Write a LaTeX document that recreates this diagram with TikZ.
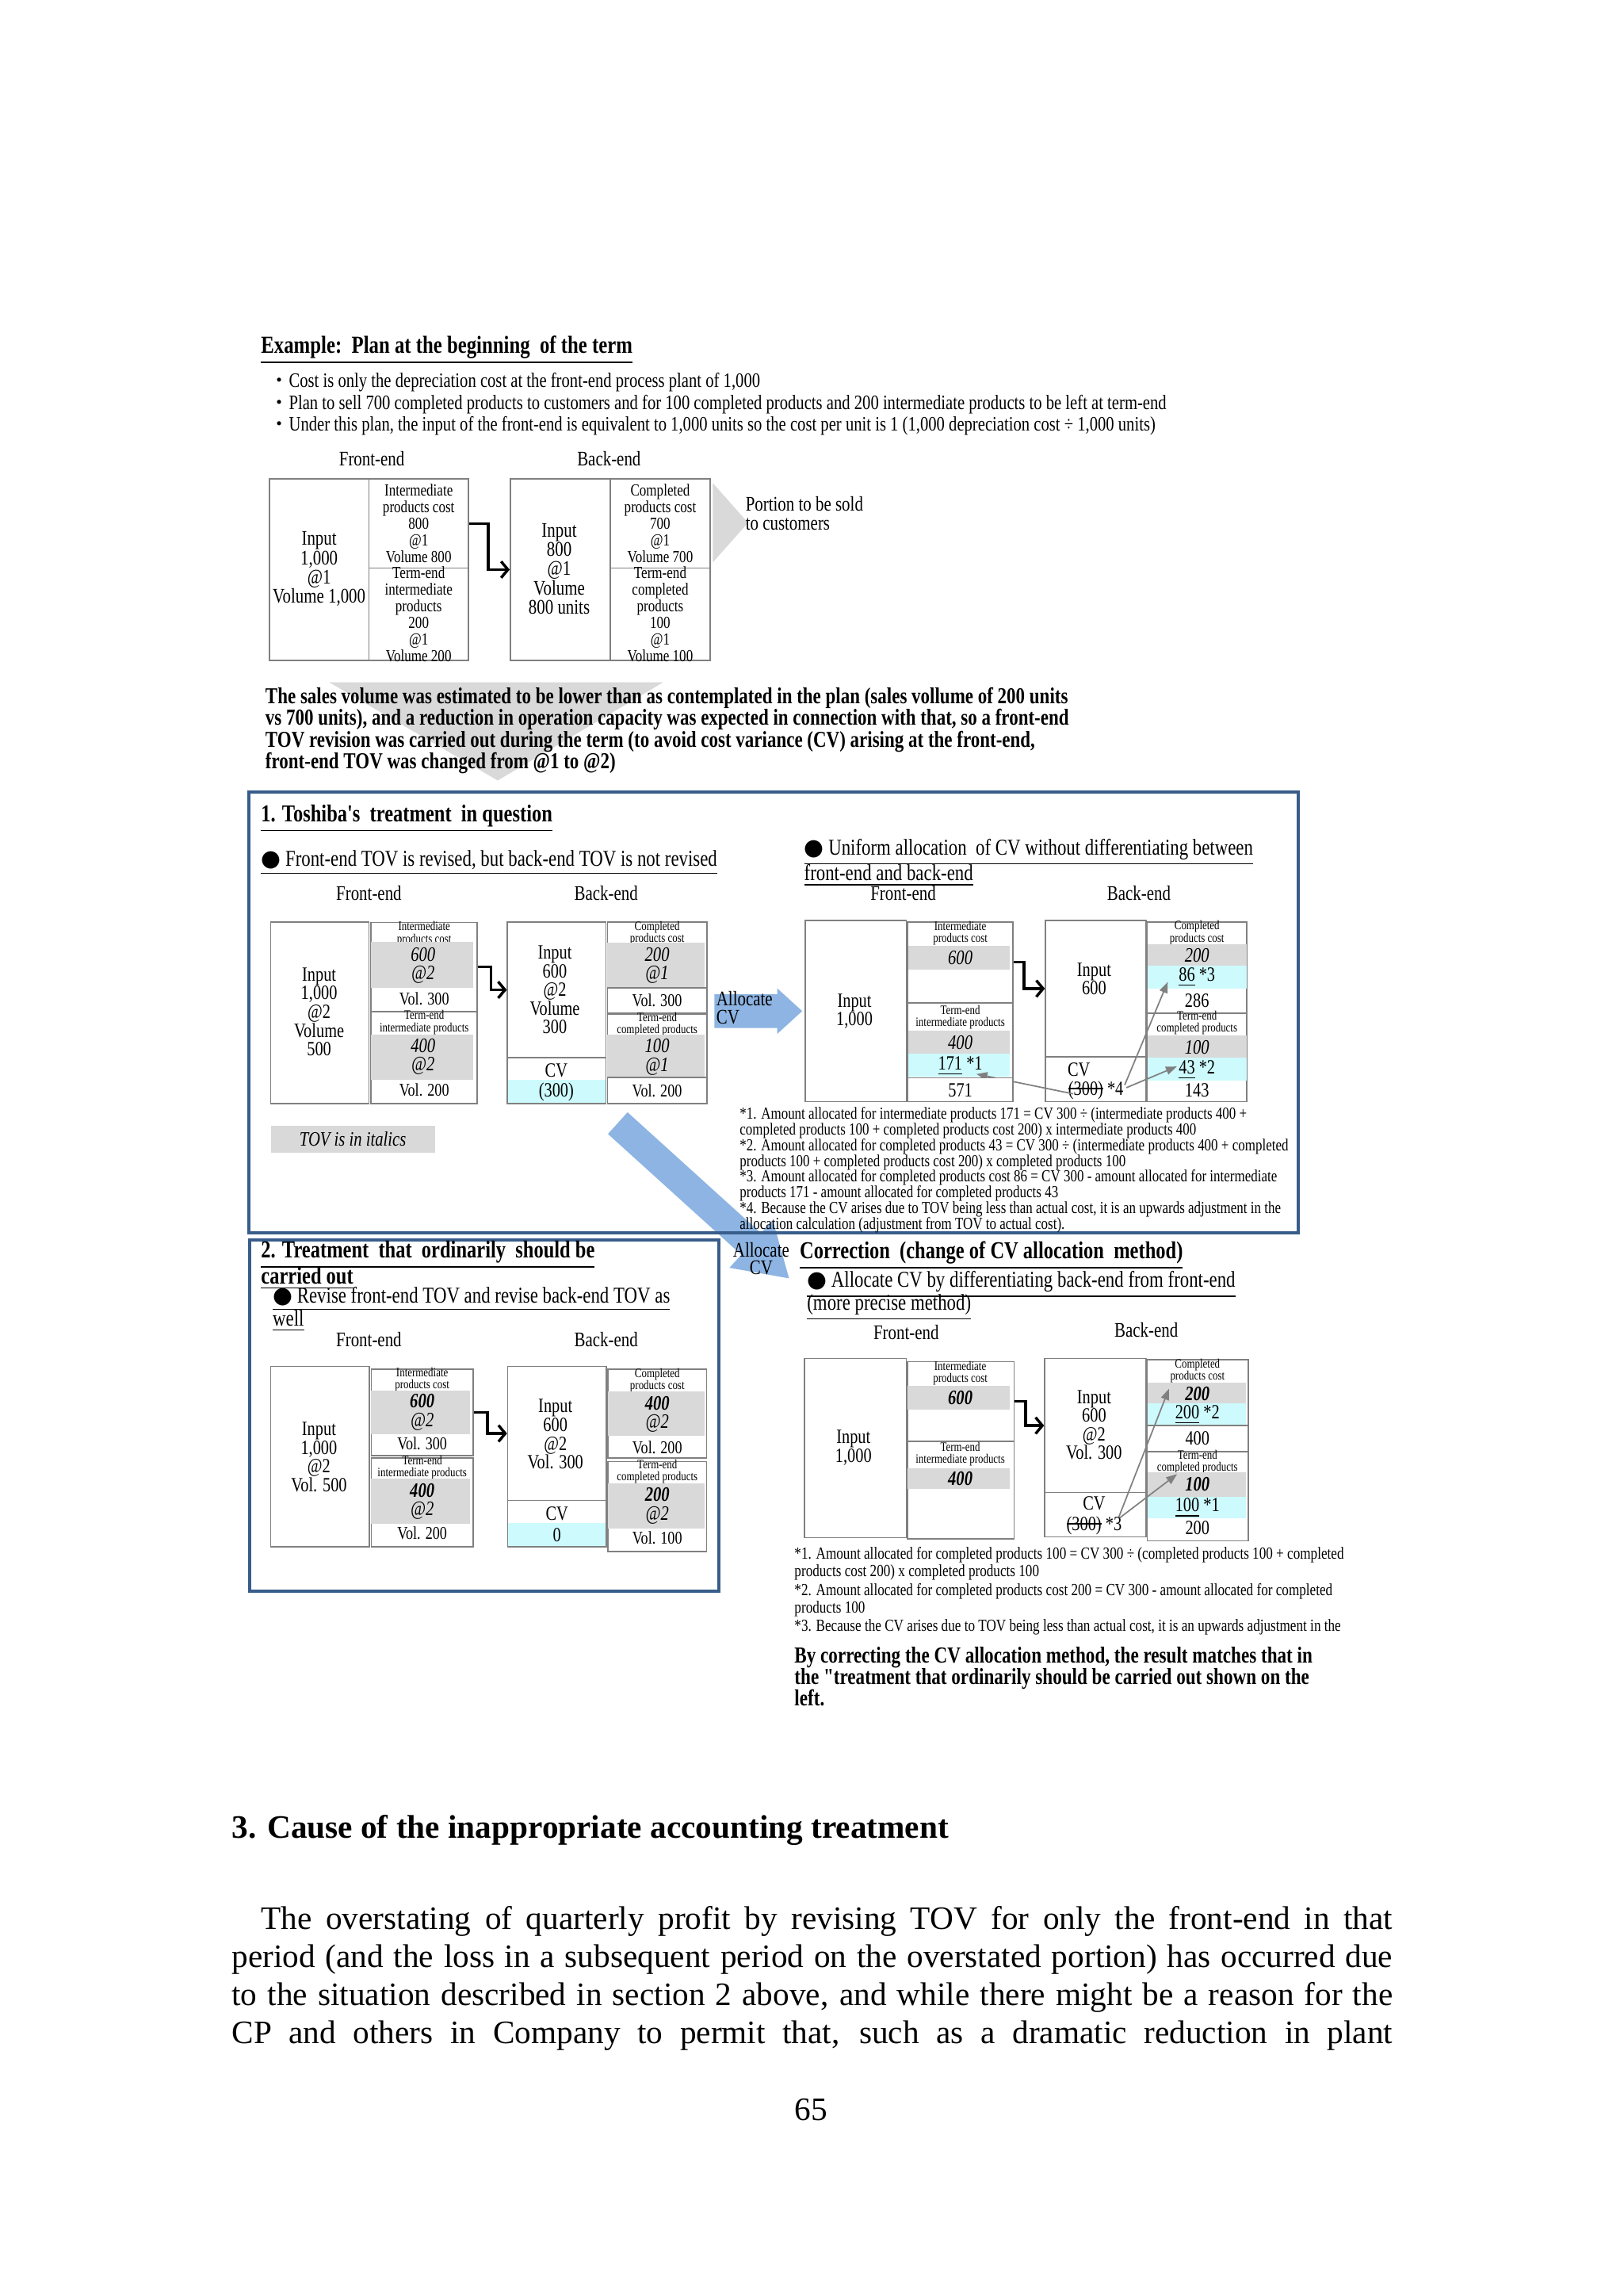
\documentclass[tikz,border=0pt]{standalone}
\usepackage{fontspec}
\setmainfont{Liberation Serif}
\newfontfamily\nf[FakeStretch=0.8]{Liberation Serif}
\newfontfamily\djv{DejaVu Sans}
\newfontfamily\cjk{Noto Sans CJK JP}
\usetikzlibrary{fit,arrows.meta}
\definecolor{secblue}{RGB}{56,93,138}
\definecolor{boxgray}{RGB}{128,128,128}
\definecolor{tovgray}{RGB}{217,217,217}
\definecolor{cvcyan}{RGB}{205,250,252}
\definecolor{arrblue}{RGB}{141,180,226}
\definecolor{arrgray}{RGB}{128,128,128}
\newcommand\cell[3]{\node[box, fit={#2 #3}] (#1) {};}
\newcommand\gband[3]{\node[gb, fit={#2 #3}] (#1) {};}
\newcommand\cband[3]{\node[cb, fit={#2 #3}] (#1) {};}
\newcommand\bul{{\djv ●}}
\newcommand\strk[1]{\begingroup\setbox0\hbox{#1}\rlap{\rule[0.3em]{\wd0}{0.5pt}}\box0\endgroup}
\begin{document}
\begin{tikzpicture}[x=0.5368pt,y=-0.5368pt,
 box/.style={draw=boxgray,line width=0.45pt,fill=white,inner sep=0pt},
 gb/.style={fill=tovgray,draw=none,inner sep=0pt},
 cb/.style={fill=cvcyan,draw=none,inner sep=0pt},
 tx/.style={inner sep=0pt,align=center,font=\nf\fontsize{7.4}{6.85}\selectfont},
 ttx/.style={inner sep=0pt,align=center,font=\nf\fontsize{7.6}{7}\selectfont},
 tcx/.style={inner sep=0pt,align=center,font=\nf\fontsize{6.2}{6.05}\selectfont},
 lb/.style={inner sep=0pt,align=center,font=\nf\fontsize{4.7}{4.45}\selectfont},
 vl/.style={inner sep=0pt,align=center,font=\nf\itshape\fontsize{7.5}{6.8}\selectfont},
 vb/.style={inner sep=0pt,align=center,font=\nf\bfseries\itshape\fontsize{7.5}{6.9}\selectfont},
 vo/.style={inner sep=0pt,font=\nf\fontsize{6.6}{7}\selectfont},
 hd/.style={inner sep=0pt,font=\nf\fontsize{7.6}{8}\selectfont},
 ttl/.style={inner sep=0pt,anchor=west,font=\nf\bfseries\fontsize{8.9}{9}\selectfont},
 sub/.style={inner sep=0pt,anchor=west,font=\nf\fontsize{8.3}{9}\selectfont},
 bl/.style={inner sep=0pt,anchor=west,font=\nf\fontsize{7.5}{8}\selectfont},
 sl/.style={inner sep=0pt,anchor=west,align=left,font=\nf\bfseries\fontsize{8.35}{7.9}\selectfont},
 note/.style={inner sep=0pt,anchor=west,align=left,font=\nf\fontsize{6.17}{5.75}\selectfont},
 bd/.style={inner sep=0pt,anchor=west,font=\fontsize{12}{14}\selectfont},
 stp/.style={line width=1pt,-{Straight Barb[length=2.5pt,width=6pt]}},
 ga/.style={draw=arrgray,line width=0.5pt,-{Triangle[length=4pt,width=3pt]}},
 secbox/.style={draw=secblue,line width=1.2pt,inner sep=0pt},
]
\fill[white] (0,0) rectangle (1109,1568);
\useasboundingbox (0,0) rectangle (1109,1568);

% ---------------- top: plan ----------------
\node[ttl,font=\nf\bfseries\fontsize{9}{9}\selectfont] (ex) at (178,239) {\underline{Example:\ \ Plan at the beginning\ \ of the term}};
\node[bl] (b1) at (184,261) {{\cjk\fontsize{7}{8}\selectfont ・}Cost is only the depreciation cost at the front-end process plant of 1,000};
\node[bl] (b2) at (184,276) {{\cjk\fontsize{7}{8}\selectfont ・}Plan to sell 700 completed products to customers and for 100 completed products and 200 intermediate products to be left at term-end};
\node[bl] (b3) at (184,291) {{\cjk\fontsize{7}{8}\selectfont ・}Under this plan, the input of the front-end is equivalent to 1,000 units so the cost per unit is 1 (1,000 depreciation cost ÷ 1,000 units)};

\node[hd] (fe0) at (254,313) {Front-end};
\node[hd] (be0) at (416,313) {Back-end};
\cell{tin}{(184,327)}{(252,451)}
\cell{tim}{(252,327)}{(320,388)}
\cell{tte}{(252,388)}{(320,451)}
\cell{bin}{(348.6,327)}{(417,451)}
\cell{bcp}{(417,327)}{(485,388)}
\cell{bte}{(417,388)}{(485,451)}
\node[ttx] (tinT) at (218,388.5) {Input\\1,000\\@1\\Volume 1,000};
\node[tcx] (timT) at (286,357.5) {Intermediate\\products cost\\800\\@1\\Volume 800};
\node[tcx] (tteT) at (286,419.5) {Term-end\\intermediate\\products\\200\\@1\\Volume 200};
\node[ttx] (binT) at (382,388.5) {Input\\800\\@1\\Volume\\800 units};
\node[tcx] (bcpT) at (451,357.5) {Completed\\products cost\\700\\@1\\Volume 700};
\node[tcx] (bteT) at (451,419.5) {Term-end\\completed\\products\\100\\@1\\Volume 100};
\draw[stp] (tim.east) -- ++(13,0) |- (bin.west);
\fill[tovgray] (487,330) -- (511,357) -- (487,384) -- cycle;
\node[ttx,anchor=west,align=left] (por) at (509,350.5) {Portion to be sold\\to customers};

\fill[tovgray] (225,466) -- (453,466) -- (340,533) -- cycle;
\node[sl] (sales) at (181,499) {The sales volume was estimated to be lower than as contemplated in the plan (sales vollume of 200 units\\vs 700 units), and a reduction in operation capacity was expected in connection with that, so a front-end\\TOV revision was carried out during the term (to avoid cost variance (CV) arising at the front-end,\\front-end TOV was changed from @1 to @2)};

% ---------------- big diagonal arrow ----------------
\fill[arrblue] (428.7,759.6) -- (519.8,842.1) -- (527.9,833.2) -- (539,873) -- (498.3,865.8) -- (506.4,856.9) -- (415.3,774.4) -- cycle;

% ---------------- section 1 ----------------
\node[secbox, fit={(170,541) (887,842)}] (sec1) {};
\node[ttl] (s1t) at (178,559) {\underline{1. Toshiba's\ \ treatment\ \ in question}};
\node[sub] (s1s) at (178,589) {\underline{\bul\ Front-end TOV is revised, but back-end TOV is not revised}};
\node[hd] (fe1) at (252,610) {Front-end};
\node[hd] (be1) at (414,610) {Back-end};
% front
\cell{ain}{(185,629.6)}{(252,753.6)}
\cell{aim}{(253.5,630)}{(326,690.5)}
\cell{ate}{(253.5,691)}{(326,753.6)}
\node[lb] (aimL) at (289.8,637.6) {Intermediate\\products cost};
\node[lb] (ateL) at (289.8,698.3) {Term-end\\intermediate products};
\gband{ag1}{(253.5,643)}{(323,674.7)}
\gband{ag2}{(253.5,706.7)}{(323,737.5)}
\node[tx] (ainT) at (218,691) {Input\\1,000\\@2\\Volume\\500};
\node[vl] (ag1T) at (289,659.5) {600\\@2};
\node[vl] (ag2T) at (289,721.5) {400\\@2};
\node[vo] (av1) at (289.8,682) {Vol. 300};
\node[vo] (av2) at (289.8,744.5) {Vol. 200};
% back
\cell{abin}{(346.6,629.6)}{(414,722.4)}
\cell{abcv}{(346.6,722.4)}{(414,753.6)}
\cband{abc}{(347,737.5)}{(413.6,753.2)}
\node[tx] (abinT) at (379,676) {Input\\600\\@2\\Volume\\300};
\node[tx] (abcvT) at (380,731) {CV};
\node[tx] (abcvV) at (380,745.5) {(300)};
\cell{abcp}{(415,629.6)}{(482.9,691.7)}
\cell{abte}{(415,692.6)}{(482.9,753.6)}
\node[lb] (abcpL) at (448.9,637.2) {Completed\\products cost};
\node[lb] (abteL) at (448.9,699.5) {Term-end\\completed products};
\gband{abg1}{(415,643.9)}{(481.4,674.2)}
\gband{abg2}{(415,706.7)}{(481.4,735.5)}
\draw[boxgray,line width=0.45pt] (abg1.south west) -- (abcp.east |- abg1.south);
\draw[boxgray,line width=0.45pt] (abg2.south west) -- (abte.east |- abg2.south);
\node[vl] (abg1T) at (448.9,659.5) {200\\@\textit{1}};
\node[vl] (abg2T) at (448.9,722) {100\\@\textit{1}};
\node[vo] (abv1) at (448.9,683.2) {Vol. 300};
\node[vo] (abv2) at (448.9,745) {Vol. 200};
\draw[stp] (aim.east) -- ++(9,0) |- (abin.west);
% TOV note
\node[gb, fit={(185,769) (297,787)}] (tovbox) {};
\node[vl] (tovT) at (241,778) {TOV is in italics};
% allocate arrow
\fill[arrblue] (488,679) -- (531,679) -- (531,675) -- (548,690.5) -- (531,706) -- (531,702) -- (488,702) -- cycle;
\node[tx,anchor=west,align=left,font=\nf\fontsize{7.6}{6.5}\selectfont] (alc1) at (489,688.3) {Allocate\\CV};
% right: uniform allocation
\node[sub] (u1) at (549,582) {\underline{\bul\ Uniform allocation\ \ of CV without differentiating between}};
\node[sub] (u2) at (549,598) {\underline{front-end and back-end}};
\node[hd] (fe2) at (617,610) {Front-end};
\node[hd] (be2) at (778,610) {Back-end};
\cell{uin}{(550,628.7)}{(619,752.3)}
\cell{uim}{(620,629.6)}{(692,684.6)}
\cell{ute}{(620,685.2)}{(692,736)}
\node[lb] (uimL) at (656,637.3) {Intermediate\\products cost};
\node[lb] (uteL) at (656,694.6) {Term-end\\intermediate products};
\gband{ug1}{(620.5,645.8)}{(690,662)}
\gband{ug2}{(620.5,703.6)}{(690,719.3)}
\cband{uc1}{(620.5,719.8)}{(690,735.5)}
\node[vl] (ug1T) at (656,654.3) {600};
\node[vl] (ug2T) at (656,712) {400};
\node[tx] (uc1T) at (656,728) {\underline{171} *1};
\node[tx] (uinT) at (583.7,690.6) {Input\\1,000};
\cell{ubin}{(714.2,628.7)}{(783,721.6)}
\cell{ucv}{(714.2,721.6)}{(783,752.3)}
\node[tx] (ubinT) at (747.4,668.5) {Input\\600};
\node[tx] (ucvT) at (737,730.5) {CV};
\node[tx] (ucvV) at (748.6,744.6) {\strk{(300)} *4};
\cell{ucp}{(783.6,629.6)}{(851.8,691.9)}
\cell{ute2}{(783.6,691.9)}{(851.8,752.3)}
\node[lb] (ucpL) at (817.7,637) {Completed\\products cost};
\node[lb] (ute2L) at (817.7,698.5) {Term-end\\completed products};
\gband{ug3}{(784,644.7)}{(851.4,659.2)}
\cband{uc3}{(784,659.2)}{(851.4,675.1)}
\gband{ug4}{(784,707)}{(851.4,722.4)}
\cband{uc4}{(784,722.4)}{(851.4,738.2)}
\node[vl] (ug3T) at (817.7,652.5) {200};
\node[tx] (uc3T) at (817.7,667.5) {\underline{86} *3};
\node[tx] (u286) at (817.7,683.2) {286};
\node[vl] (ug4T) at (817.7,715) {100};
\node[tx] (uc4T) at (817.7,730.7) {\underline{43} *2};
\node[tx] (u143) at (817.7,744.5) {143};
\draw[stp] (uim.east) -- ++(7,0) |- (ubin.west);
\coordinate (cvA) at (733,747);
\coordinate (cvB) at (768.3,741);
\coordinate (cvC) at (769.5,742.8);
\coordinate (t171) at (667,733.5);
\coordinate (t86) at (797.7,670.6);
\coordinate (t43) at (803.9,728.3);
\draw[ga] (cvA) -- (t171);
\draw[ga] (cvB) -- (t86);
\draw[ga] (cvC) -- (t43);
\cell{u571}{(620,736)}{(692,752.3)}
\node[tx] (u571T) at (656,744.6) {571};
% notes 1
\node[note] (n1) at (505,799) {*1. Amount allocated for intermediate products 171 = CV 300 ÷ (intermediate products 400 +\\completed products 100 + completed products cost 200) x intermediate products 400\\*2. Amount allocated for completed products 43 = CV 300 ÷ (intermediate products 400 + completed\\products 100 + completed products cost 200) x completed products 100\\*3. Amount allocated for completed products cost 86 = CV 300 - amount allocated for intermediate\\products 171 - amount allocated for completed products 43\\*4. Because the CV arises due to TOV being less than actual cost, it is an upwards adjustment in the\\allocation calculation (adjustment from TOV to actual cost).};

% ---------------- section 2 ----------------
\node[secbox, fit={(170.4,846.6) (491.3,1086.6)}] (sec2) {};
\node[ttl] (s2t1) at (178,857) {\underline{2. Treatment\ \ that\ \ ordinarily\ \ should be}};
\node[ttl] (s2t2) at (178,873) {\underline{carried out}};
\node[sub] (s2s1) at (186,887) {\underline{\bul\ Revise front-end TOV and revise back-end TOV as}};
\node[sub] (s2s2) at (186,902) {\underline{well}};
\node[hd] (fe3) at (252,915) {Front-end};
\node[hd] (be3) at (414,915) {Back-end};
\cell{cin}{(184.8,933.2)}{(252.2,1056.3)}
\cell{cim}{(253.6,935)}{(323.2,994.2)}
\cell{cte}{(253.6,995.8)}{(323.2,1056.3)}
\node[lb] (cimL) at (288.4,942) {Intermediate\\products cost};
\node[lb] (cteL) at (288.4,1002.3) {Term-end\\intermediate products};
\gband{cg1}{(253.6,949.8)}{(321,979.6)}
\gband{cg2}{(253.6,1010)}{(321,1040.6)}
\node[vl] (cg1T) at (288.4,964.5) {\textbf{600}\\@2};
\node[vl] (cg2T) at (288.4,1025.5) {\textbf{400}\\@2};
\node[vo] (cv1) at (288.4,986) {Vol. 300};
\node[vo] (cv2) at (288.4,1047) {Vol. 200};
\node[tx] (cinT) at (217.9,995) {Input\\1,000\\@2\\Vol. 500};
\cell{cbin}{(346.8,933.2)}{(414.2,1024.7)}
\cell{ccv}{(346.8,1024.7)}{(414.2,1056.3)}
\cband{ccc}{(347.2,1040)}{(413.8,1055.9)}
\node[tx] (cbinT) at (379.4,979.5) {Input\\600\\@2\\Vol. 300};
\node[tx] (ccvT) at (380.5,1033.7) {CV};
\node[tx] (ccvV) at (380.5,1048.2) {0};
\cell{ccp}{(415.3,935)}{(482.7,995.8)}
\cell{cte2}{(415.3,998.2)}{(482.7,1059.6)}
\node[lb] (ccpL) at (449,942.8) {Completed\\products cost};
\node[lb] (cte2L) at (449,1004.8) {Term-end\\completed products};
\gband{cg3}{(415.3,950.3)}{(481.5,980.5)}
\gband{cg4}{(415.3,1013)}{(481.5,1043.7)}
\node[vl] (cg3T) at (449,966) {\textbf{400}\\@2};
\node[vl] (cg4T) at (449,1028.3) {\textbf{200}\\@2};
\node[vo] (cv3) at (449,988.8) {Vol. 200};
\node[vo] (cv4) at (449,1050.5) {Vol. 100};
\draw[stp] (cim.east) -- ++(9.4,0) |- (cbin.west);

% allocate text on diagonal arrow
\node[tx,font=\nf\fontsize{7.6}{6.3}\selectfont] (alc2) at (520,859.6) {Allocate\\CV};

% ---------------- correction ----------------
\node[ttl] (ct) at (546,857.4) {\underline{Correction\ \ (change of CV allocation\ \ method)}};
\node[sub] (cs1) at (551,877.3) {\underline{\bul\ Allocate CV by differentiating back-end from front-end}};
\node[sub] (cs2) at (551,893) {\underline{(more precise method)}};
\node[hd] (fe4) at (619,909.7) {Front-end};
\node[hd] (be4) at (783,908.5) {Back-end};
\cell{din}{(549.6,927.8)}{(619,1050)}
\cell{dim}{(619.8,930)}{(692.7,984.1)}
\cell{dte}{(619.8,984.6)}{(692.7,1050.9)}
\node[lb] (dimL) at (656,937.7) {Intermediate\\products cost};
\node[lb] (dteL) at (656,993.2) {Term-end\\intermediate products};
\gband{dg1}{(620.2,946.2)}{(690,962.6)}
\gband{dg2}{(620.2,1002.7)}{(690,1016.8)}
\node[vb] (dg1T) at (656,954.3) {600};
\node[vb] (dg2T) at (656,1010) {400};
\node[tx] (dinT) at (583,988.7) {Input\\1,000};
\cell{dbin}{(713.7,927.8)}{(783,1019.3)}
\cell{dcv}{(713.7,1019.3)}{(783,1049.6)}
\node[tx] (dbinT) at (747.4,973.2) {Input\\600\\@2\\Vol. 300};
\node[tx] (dcvT) at (747.4,1026.5) {CV};
\node[tx] (dcvV) at (747.4,1042) {\strk{(300)} *3};
\cell{dcp}{(783.6,928.7)}{(852.7,973.4)}
\cell{d400}{(783.6,973.4)}{(852.7,991.5)}
\cell{dte2}{(783.6,991.5)}{(852.7,1052.3)}
\node[lb] (dcpL) at (818,936.2) {Completed\\products cost};
\node[lb] (dte2L) at (818,998.3) {Term-end\\completed products};
\gband{dg3}{(784,944)}{(851,958.5)}
\cband{dc3}{(784,958.5)}{(851,972.9)}
\gband{dg4}{(784,1005.7)}{(851,1022.2)}
\cband{dc4}{(784,1022.2)}{(851,1036.6)}
\node[vb] (dg3T) at (818,952) {200};
\node[tx] (dc3T) at (818,966.2) {\underline{200} *2};
\node[tx] (d400T) at (818,982.5) {400};
\node[vb] (dg4T) at (818,1013.7) {100};
\node[tx] (dc4T) at (818,1029.8) {\underline{100} *1};
\node[tx] (d200T) at (818,1043.6) {200};
\draw[stp] (dim.east) -- ++(7.6,0) |- (dbin.west);
\coordinate (dvA) at (764.3,1036);
\coordinate (dvB) at (765,1036.5);
\coordinate (t200) at (798.5,948.5);
\coordinate (t100) at (804.1,1006.7);
\draw[ga] (dvA) -- (t200);
\draw[ga] (dvB) -- (t100);
\node[note,font=\nf\fontsize{6.23}{5.55}\selectfont] (n2) at (542.4,1086.5) {*1. Amount allocated for completed products 100 = CV 300 ÷ (completed products 100 + completed\\products cost 200) x completed products 100\\*2. Amount allocated for completed products cost 200 = CV 300 - amount allocated for completed\\products 100\\*3. Because the CV arises due to TOV being less than actual cost, it is an upwards adjustment in the};
\node[sl,font=\nf\bfseries\fontsize{8.4}{7.95}\selectfont] (concl) at (542.4,1145) {By correcting the CV allocation method, the result matches that in\\the "treatment that ordinarily should be carried out shown on the\\left.};

% ---------------- body text ----------------
\node[inner sep=0pt,anchor=west,font=\bfseries\fontsize{12}{15}\selectfont] (h3) at (158,1250) {3. Cause of the inappropriate accounting treatment};
\node[bd] (p1) at (178,1312) {\makebox[415pt][s]{The overstating of quarterly profit by revising TOV for only the front-end in that}};
\node[bd] (p2) at (158,1338) {\makebox[425.7pt][s]{period (and the loss in a subsequent period on the overstated portion) has occurred due}};
\node[bd] (p3) at (158,1364) {\makebox[425.7pt][s]{to the situation described in section 2 above, and while there might be a reason for the}};
\node[bd] (p4) at (158,1390) {\makebox[425.7pt][s]{CP and others in Company to permit that, such as a dramatic reduction in plant}};
\node[bd,anchor=center] (pg) at (554,1441) {65};
\end{tikzpicture}
\end{document}
